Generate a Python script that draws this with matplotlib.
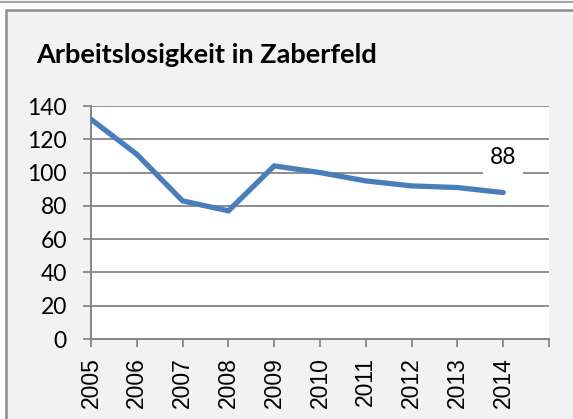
import matplotlib
matplotlib.use("Agg")
import matplotlib.pyplot as plt
from matplotlib.patches import Rectangle
from matplotlib.lines import Line2D

years = ["2005", "2006", "2007", "2008", "2009", "2010", "2011", "2012", "2013", "2014"]
werte = [132, 111, 83, 77, 104, 100, 95, 92, 91, 88]
y_ticks = [0, 20, 40, 60, 80, 100, 120, 140]

W, H = 573, 419
fig = plt.figure(figsize=(W / 100, H / 100), dpi=100, facecolor="white")

# rahmen vom diagramm (geht rechts und unten ueber den rand hinaus)
fig.patches.append(Rectangle((6 / W, -0.05), 1.2, (H - 10) / H + 0.05,
                             transform=fig.transFigure, facecolor="#f2f2f2",
                             edgecolor="#8c8c8c", linewidth=1.8, zorder=-2))
# unterkante vom diagramm darueber
fig.patches.append(Rectangle((0, (H - 2) / H), 1, 2 / H, transform=fig.transFigure,
                             facecolor="#f2f2f2", edgecolor="none", zorder=-2))
fig.lines.append(Line2D([0, 1], [(H - 2.5) / H] * 2, transform=fig.transFigure,
                        color="#9a9a9a", linewidth=1.2, zorder=-1))

ax = fig.add_axes([91 / W, 80 / H, (549 - 91) / W, (339 - 106) / H])
ax.set_zorder(2)
ax.set_facecolor("white")

x = list(range(len(years)))
ax.plot(x, werte, color="#4a7ebb", linewidth=3.8, solid_capstyle="round",
        solid_joinstyle="miter", zorder=3)

ax.set_xlim(0, len(years))
ax.set_ylim(0, 140)
ax.set_yticks(y_ticks)
ax.set_yticklabels([str(v) for v in y_ticks], fontfamily="Lato", fontsize=16.5)
ax.set_xticks(list(range(len(years) + 1)))
ax.set_xticklabels(years + [""], rotation=90, fontfamily="Liberation Sans", fontsize=16.5)

ax.grid(axis="y", color="#868686", linewidth=1.3, zorder=1)
ax.set_axisbelow(True)
for s in ["top", "right"]:
    ax.spines[s].set_visible(False)
for s in ["left", "bottom"]:
    ax.spines[s].set_color("#868686")
    ax.spines[s].set_linewidth(1.4)
ax.tick_params(axis="y", length=5.8, width=1.3, color="#868686", pad=11.5)
ax.tick_params(axis="x", length=5.8, width=1.3, color="#868686", pad=7)

# datenbeschriftung letzter punkt
ax.annotate(str(werte[-1]), (x[-1], werte[-1]), xytext=(0, 35), textcoords="offset pixels",
            ha="center", va="center", fontfamily="Lato", fontsize=16.5,
            bbox=dict(boxstyle="square,pad=0.3", facecolor="white", edgecolor="none"),
            zorder=4)

fig.text(36 / W, 1 - 55 / H, "Arbeitslosigkeit in Zaberfeld", fontfamily="Lato",
         fontweight="bold", fontsize=19.5, va="center", ha="left", zorder=3)

fig.savefig("out.png", dpi=100, facecolor=fig.get_facecolor())
